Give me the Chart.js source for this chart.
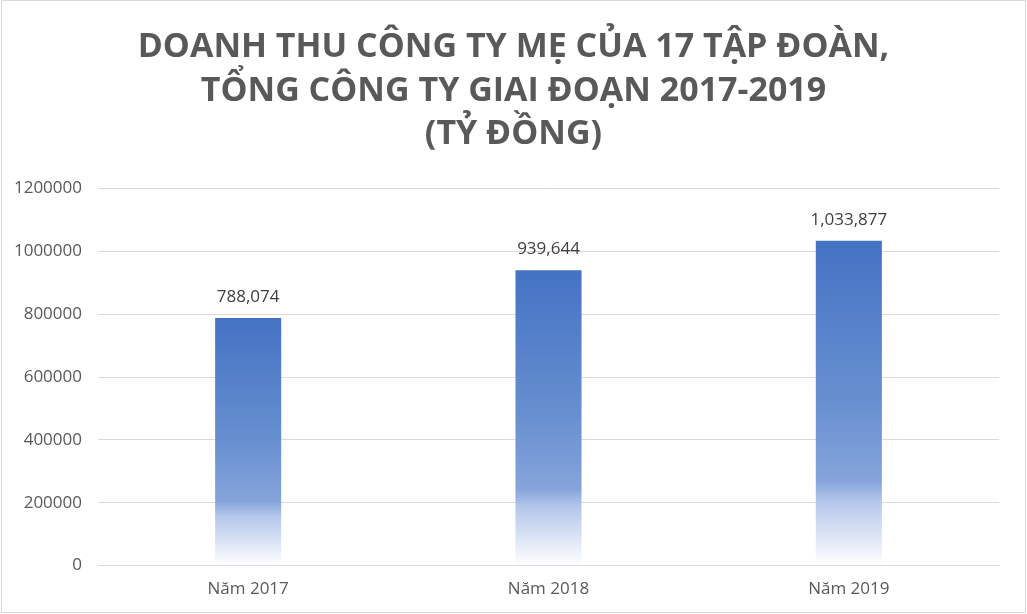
<!DOCTYPE html>
<html>
<head>
<meta charset="utf-8">
<script src="https://cdn.jsdelivr.net/npm/chart.js@4.4.1/dist/chart.umd.min.js"></script>
<style>
  html, body { margin: 0; padding: 0; background: #fff; }
  #wrap { position: relative; width: 1027px; height: 614px; }
  #frame { position: absolute; left: 1px; top: 0; width: 1023px; height: 611px; border: 1px solid #d9d9d9; pointer-events: none; }
  canvas { display: block; }
</style>
</head>
<body>
<div id="wrap">
  <canvas id="c" width="1027" height="614"></canvas>
  <div id="frame"></div>
</div>
<script>
const categories = ["Năm 2017", "Năm 2018", "Năm 2019"];
const revenue = [788074, 939644, 1033877];
const valueLabels = ["788,074", "939,644", "1,033,877"];
const titleLines = ["DOANH THU CÔNG TY MẸ CỦA 17 TẬP ĐOÀN,", "TỔNG CÔNG TY GIAI ĐOẠN 2017-2019", "(TỶ ĐỒNG)"];
const yTicks = [0, 200000, 400000, 600000, 800000, 1000000, 1200000];

const FONT = "'Open Sans', 'Noto Sans', sans-serif";

function barGradient(ctx) {
  const chart = ctx.chart;
  if (!chart.chartArea || ctx.dataIndex === undefined) return '#4472C4';
  const y = chart.scales.y;
  const top = y.getPixelForValue(revenue[ctx.dataIndex]);
  const bottom = y.getPixelForValue(0);
  const g = chart.ctx.createLinearGradient(0, top, 0, bottom);
  g.addColorStop(0, '#4472C4');
  g.addColorStop(0.5, '#6890d0');
  g.addColorStop(0.74, '#86a4db');
  g.addColorStop(0.80, '#b3c6ea');
  g.addColorStop(1, '#ffffff');
  return g;
}

const valueLabelPlugin = {
  id: 'valueLabels',
  afterDatasetsDraw(chart) {
    const c = chart.ctx;
    const meta = chart.getDatasetMeta(0);
    c.save();
    c.font = "17px " + FONT;
    c.fillStyle = '#404040';
    c.textAlign = 'center';
    c.textBaseline = 'middle';
    meta.data.forEach((bar, i) => {
      c.fillText(valueLabels[i], bar.x, bar.y - 21);
    });
    c.restore();
  }
};

new Chart(document.getElementById('c'), {
  type: 'bar',
  data: {
    labels: categories,
    datasets: [{
      data: revenue,
      backgroundColor: barGradient,
      borderWidth: 0,
      barPercentage: 0.44,
      categoryPercentage: 0.5
    }]
  },
  options: {
    responsive: false,
    animation: false,
    layout: { padding: { left: 0, right: 0, top: 0, bottom: 2 } },
    plugins: {
      legend: { display: false },
      tooltip: { enabled: false },
      title: {
        display: true,
        text: titleLines,
        color: '#595959',
        font: { family: FONT, size: 34, weight: 'bold', lineHeight: 1.28 },
        padding: { top: 26, bottom: 32 }
      }
    },
    scales: {
      x: {
        grid: { display: false, drawTicks: false },
        border: { color: '#d9d9d9', width: 1 },
        ticks: { color: '#595959', font: { family: FONT, size: 17 }, padding: 13 }
      },
      y: {
        min: 0,
        max: 1200000,
        afterBuildTicks(scale) { scale.ticks = yTicks.map(v => ({ value: v })); },
        afterFit(scale) { scale.width = 98; },
        grid: { color: '#d9d9d9', drawTicks: false },
        border: { display: false },
        ticks: {
          color: '#595959',
          font: { family: FONT, size: 17 },
          padding: 16,
          callback: (v) => String(v)
        }
      },
      yRight: {
        position: 'right',
        min: 0,
        max: 1200000,
        afterFit(scale) { scale.width = 28; },
        grid: { display: false, drawOnChartArea: false, drawTicks: false },
        border: { display: false },
        ticks: { display: false }
      }
    }
  },
  plugins: [valueLabelPlugin]
});
</script>
</body>
</html>
